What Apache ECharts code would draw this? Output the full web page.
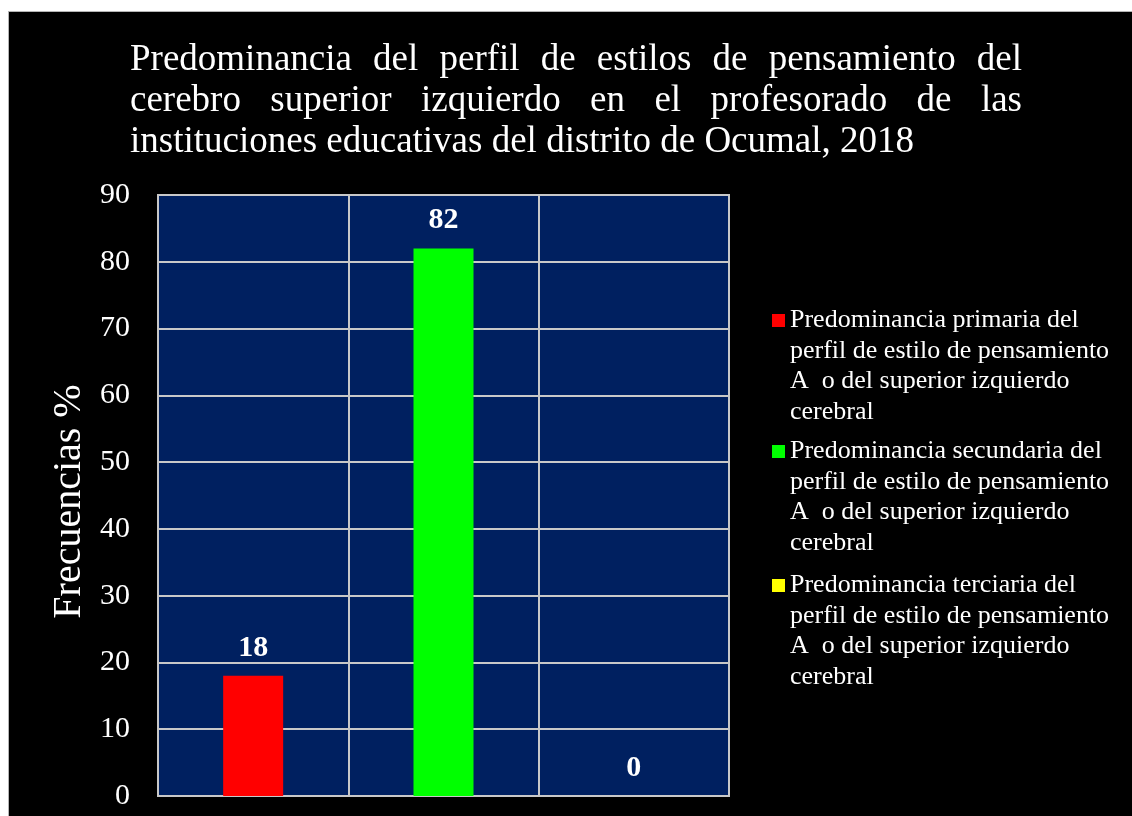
<!DOCTYPE html>
<html>
<head>
<meta charset="utf-8">
<script src="https://cdn.jsdelivr.net/npm/echarts@6/dist/echarts.min.js"></script>
<style>
  html, body { margin: 0; padding: 0; background: #fff; }
  #chart {
    position: absolute;
    left: 8px;
    top: 11px;
    width: 1124px;
    height: 805px;
    background: #000;
    border-left: 1px solid #b4b4b4;
    border-top: 1px solid #b4b4b4;
  }
</style>
</head>
<body>
<div id="chart"></div>
<script>
// datos del gráfico
const categorias = ["Primaria", "Secundaria", "Terciaria"];
const valores = [18, 82, 0];
const nombresSerie = [
  "Predominancia primaria del perfil de estilo de pensamiento A  o del superior izquierdo cerebral",
  "Predominancia secundaria del perfil de estilo de pensamiento A  o del superior izquierdo cerebral",
  "Predominancia terciaria del perfil de estilo de pensamiento A  o del superior izquierdo cerebral",
];
const lineasLeyenda = [
  ["Predominancia primaria del", "perfil de estilo de pensamiento", "A  o del superior izquierdo", "cerebral"],
  ["Predominancia secundaria del", "perfil de estilo de pensamiento", "A  o del superior izquierdo", "cerebral"],
  ["Predominancia terciaria del", "perfil de estilo de pensamiento", "A  o del superior izquierdo", "cerebral"],
];
const colores = ["#FF0000", "#00FF00", "#FFFF00"];
const ejeY = { min: 0, max: 90, interval: 10 };
const tituloLineas = [
  "Predominancia del perfil de estilos de pensamiento del",
  "cerebro superior izquierdo en el profesorado de las",
  "instituciones educativas del distrito de Ocumal, 2018",
];

const FUENTE = '"Liberation Serif", "Times New Roman", serif';
const chart = echarts.init(document.getElementById("chart"));

// título justificado (como en el original), palabra por palabra
const ctx = document.createElement("canvas").getContext("2d");
const tamTitulo = 37;
ctx.font = tamTitulo + "px " + FUENTE;
const tituloIzq = 121, tituloDer = 1013;
const tituloY = [66.5, 107.5, 148.5];
const graficos = [];
tituloLineas.forEach((linea, i) => {
  const palabras = linea.split(" ");
  const justificar = i < tituloLineas.length - 1;
  const anchos = palabras.map((p) => ctx.measureText(p).width);
  const total = anchos.reduce((a, b) => a + b, 0);
  const hueco = justificar
    ? (tituloDer - tituloIzq - total) / (palabras.length - 1)
    : ctx.measureText(" ").width;
  let x = tituloIzq;
  palabras.forEach((p, k) => {
    graficos.push({
      type: "text",
      x: x,
      y: tituloY[i],
      silent: true,
      style: {
        text: p,
        font: tamTitulo + "px " + FUENTE,
        fill: "#fff",
        verticalAlign: "bottom",
      },
    });
    x += anchos[k] + hueco;
  });
});

// leyendas: una por serie; el icono es un cuadrado en lo alto de una caja
// tan alta como el texto, para que quede junto a la primera línea
const altoLinea = 30.5;
const altoBloque = altoLinea * 4;
const iconoLeyenda = "path://M0,0h13M0,9h13v13h-13zM0," + altoBloque + "h13";
const leyendaTop = [293, 424, 558];
const leyendas = nombresSerie.map((nombre, i) => ({
  data: [nombre],
  orient: "vertical",
  left: 763,
  top: leyendaTop[i],
  padding: 0,
  itemWidth: 13,
  itemHeight: altoBloque,
  icon: iconoLeyenda,
  symbolKeepAspect: false,
  selectedMode: false,
  formatter: () => lineasLeyenda[i].join("\n"),
  textStyle: {
    color: "#fff",
    fontSize: 26,
    fontFamily: FUENTE,
    lineHeight: altoLinea,
  },
}));

const series = nombresSerie.map((nombre, i) => ({
  name: nombre,
  type: "bar",
  barWidth: 60,
  barGap: "-100%",
  itemStyle: { color: colores[i] },
  data: categorias.map((c, j) => (j === i ? valores[i] : null)),
  label: {
    show: true,
    position: "top",
    distance: 13,
    color: "#fff",
    fontSize: 30,
    fontWeight: "bold",
    fontFamily: FUENTE,
  },
}));

const lineaGris = "#c8c8c8";
chart.setOption({
  backgroundColor: "transparent",
  animation: false,
  textStyle: { fontFamily: FUENTE },
  graphic: graficos,
  legend: leyendas,
  grid: {
    left: 149,
    top: 183,
    width: 571,
    bottom: 21,
    show: true,
    backgroundColor: "#002060",
    borderColor: lineaGris,
    borderWidth: 2,
  },
  xAxis: {
    type: "category",
    data: categorias,
    axisLine: { lineStyle: { color: lineaGris, width: 2 } },
    axisTick: { show: false },
    axisLabel: { show: false },
    splitLine: { show: true, lineStyle: { color: lineaGris, width: 2 } },
  },
  yAxis: {
    type: "value",
    min: ejeY.min,
    max: ejeY.max,
    interval: ejeY.interval,
    name: "Frecuencias %",
    nameLocation: "middle",
    nameGap: 68,
    nameTextStyle: {
      color: "#fff",
      fontSize: 40,
      fontFamily: FUENTE,
      padding: [0, 12, 0, 0],
    },
    axisLine: { show: true, lineStyle: { color: lineaGris, width: 2 } },
    axisTick: { show: false },
    axisLabel: { color: "#fff", fontSize: 30, fontFamily: FUENTE, margin: 28 },
    splitLine: { lineStyle: { color: lineaGris, width: 2 } },
  },
  series: series,
});
</script>
</body>
</html>
